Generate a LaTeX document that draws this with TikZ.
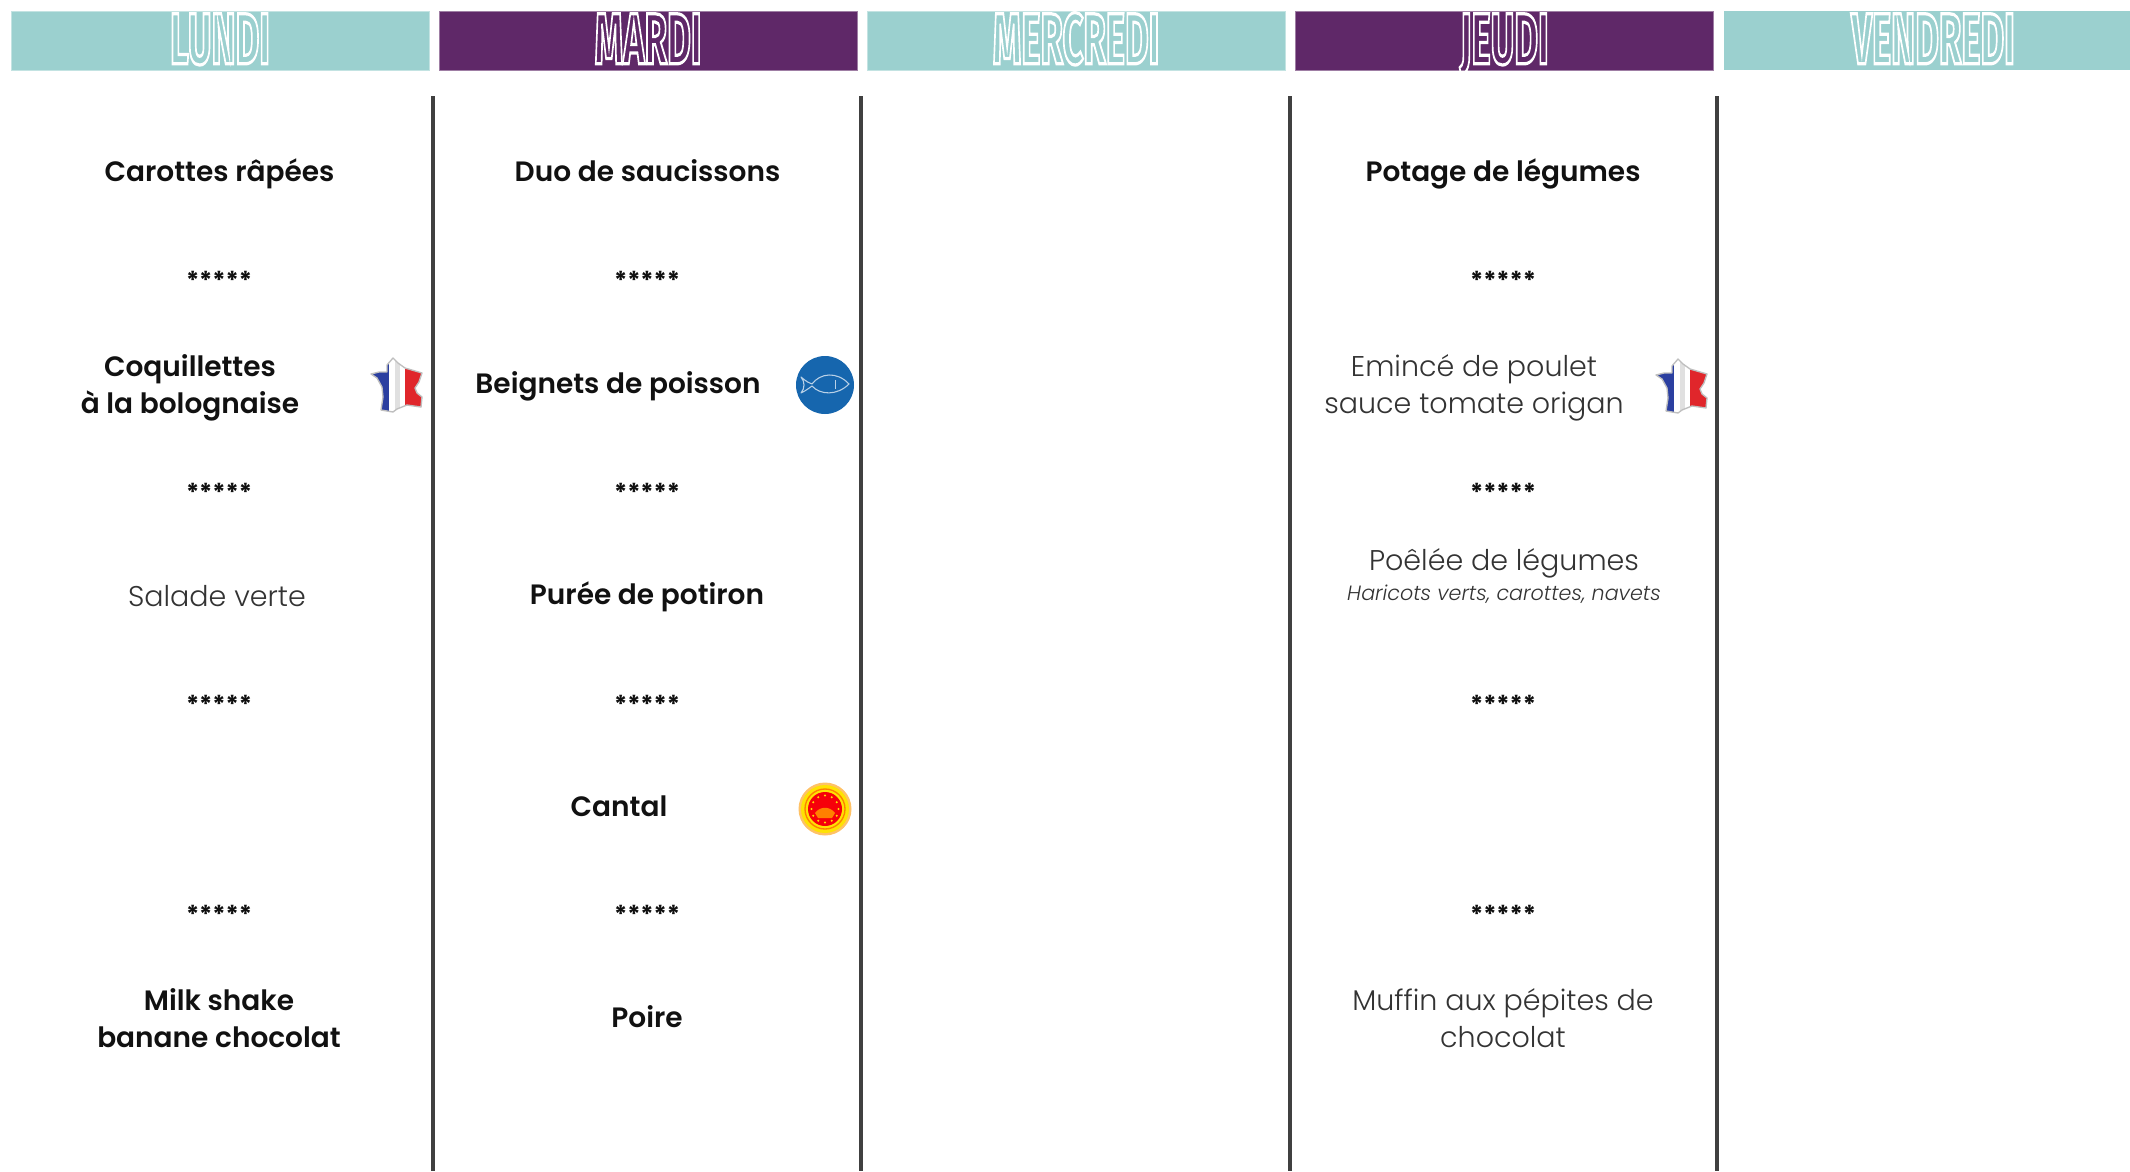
\documentclass[tikz,border=0pt]{standalone}
\usepackage{fontspec}
\usepackage{graphicx}
\setmainfont{Poppins}
\newfontfamily\hdfont{Fira Sans Bold}
\newfontfamily\lightfont{Poppins Light}
\newfontfamily\semifont{Poppins SemiBold}
\definecolor{teal0}{HTML}{9BD0CF}
\definecolor{purp0}{HTML}{5F2868}
\definecolor{rule0}{HTML}{404040}
\definecolor{ink0}{HTML}{111111}
\definecolor{thin0}{HTML}{333333}
\definecolor{fishblue}{HTML}{1666AE}
\definecolor{frblue}{HTML}{2B3FA0}
\definecolor{frred}{HTML}{E0262B}
\newcommand{\outl}[1]{\special{pdf:code 1 Tr 1.4 w 1 1 1 RG}#1\special{pdf:code 0 Tr}}
\newcommand{\hdtext}[1]{\raisebox{-17.5pt}[0pt][0pt]{\scalebox{0.88}[1.75]{\hdfont\fontsize{31}{31}\selectfont\outl{#1}}}}
\newcommand{\frpath}{(-4,-27) -- (1,-22) -- (8,-17) -- (25,-12) -- (22,-3) -- (18,3) -- (20,8) -- (25,12) -- (24,22) -- (10,20) -- (0,24) -- (-4,27) -- (-16,25) -- (-14,12) -- (-15,2) -- (-20,-7) -- (-26,-11) -- (-18,-13) -- (-10,-13) -- (-10,-20) -- cycle}
\tikzset{
  x=0.75pt,y=-0.75pt,
  daybar/.style={minimum height=44.25pt,inner sep=0pt,outer sep=0pt,text=white,anchor=north west},
  tealbar/.style={daybar,fill=teal0,draw=teal0!60!white,line width=.5pt},
  purpbar/.style={daybar,fill=purp0,draw=purp0!60!white,line width=.5pt},
  sep/.style={draw=rule0,line width=2.5pt},
  dish/.style={inner sep=0pt,align=center,yshift=-2pt,font=\fontsize{21}{27.75}\selectfont\semifont,text=ink0},
  plain/.style={inner sep=0pt,align=center,yshift=-2pt,font=\fontsize{21.4}{27.75}\selectfont\lightfont,text=thin0},
  stars/.style={inner sep=0pt,font=\fontsize{18.5}{20}\selectfont\bfseries,text=ink0},
  flagpic/.pic={
    \begin{scope}
      \clip \frpath;
      \fill[frblue] (-30,-30) rectangle (-8,30);
      \fill[white] (-8,-30) rectangle (8,30);
      \fill[black!12] (-2,-30) rectangle (3,30);
      \fill[frred] (8,-30) rectangle (30,30);
    \end{scope}
    \draw[black!25,line width=1pt,line join=round] \frpath;
  },
  fishpic/.pic={
    \fill[fishblue] (0,0) circle (29);
    \draw[white!70!fishblue,line width=.8pt,line join=round]
      (-24,-8) .. controls (-18,-3) and (-16,-2) .. (-13,-1)
      .. controls (-5,-12) and (12,-14) .. (24,-1)
      .. controls (12,11) and (-5,10) .. (-13,1)
      .. controls (-16,3) and (-18,5) .. (-24,8)
      .. controls (-20,3) and (-20,-3) .. (-24,-8) -- cycle;
    \draw[white!70!fishblue,line width=.6pt] (10,-5) -- (10,4);
  },
  aoppic/.pic={
    \fill[red!40!yellow!60!white] (0,0) circle (26.5);
    \fill[yellow!85!orange] (0,0) circle (24);
    \draw[orange,line width=1pt] (0,0) circle (20);
    \fill[red!85!purple] (0,0) circle (17);
    \foreach \a in {0,30,...,330} \fill[yellow!80!orange] (\a:13.5) circle (1.1);
    \fill[orange] (-10,4) .. controls (-5,-3) and (5,-3) .. (10,4) -- (7,9) -- (-7,9) -- cycle;
  }
}
\begin{document}
\begin{tikzpicture}
\useasboundingbox (0,0) rectangle (2130,1171);
\fill[white] (0,0) rectangle (2130,1171);
% day headers
\node[tealbar,minimum width=313.5pt] (lundi) at (11,11) {\hdtext{LUNDI}};
\node[purpbar,minimum width=313.5pt] (mardi) at (439,11) {\hdtext{MARDI}};
\node[tealbar,minimum width=313.5pt] (mercredi) at (867,11) {\hdtext{MERCREDI}};
\node[purpbar,minimum width=314pt] (jeudi) at (1295,11) {\hdtext{JEUDI}};
\fill[teal0] (1724,11) rectangle (2130,70);
\node[inner sep=0pt,text=white] (vendredi) at (1933,40.5) {\hdtext{VENDREDI}};
% separators
\draw[sep] (433,96) -- (433,1171);
\draw[sep] (861,96) -- (861,1171);
\draw[sep] (1290,96) -- (1290,1171);
\draw[sep] (1717,96) -- (1717,1171);
% star rows
\foreach \cx/\nm in {219/a,647/b,1503/c}{
  \foreach \cy/\mm in {276/p,488/q,700/r,910.5/s}{
    \node[stars] (st\nm\mm) at (\cx,\cy+4) {*****};
  }
}
% Lundi
\node[dish] (l1) at (219.5,171.5) {\strut Carottes râpées};
\node[dish] (l2) at (190,384.5) {\strut Coquillettes\\\strut à la bolognaise};
\node[plain] (l3) at (217,596) {\strut Salade verte};
\node[dish] (l4) at (219,1018.5) {\strut Milk shake\\\strut banane chocolat};
% Mardi
\node[dish] (m1) at (647.5,171.5) {\strut Duo de saucissons};
\node[dish] (m2) at (618,383.5) {\strut Beignets de poisson};
\node[dish] (m3) at (647,594.5) {\strut Purée de potiron};
\node[dish] (m4) at (619,806) {\strut Cantal};
\node[dish] (m5) at (647,1017) {\strut Poire};
% Jeudi
\node[dish] (j1) at (1503,171.5) {\strut Potage de légumes};
\node[plain] (j2) at (1474,384.5) {\strut Emincé de poulet\\\strut sauce tomate origan};
\node[plain] (j3) at (1504,560) {\strut Poêlée de légumes};
\node[inner sep=0pt,text=thin0,font=\fontsize{15.5}{18}\selectfont\lightfont\itshape,yshift=-1.5pt] (j3b) at (1504,592) {Haricots verts, carottes, navets};
\node[plain] (j4) at (1503,1018.5) {\strut Muffin aux pépites de\\\strut chocolat};
% icons
\pic at (397,385) {flagpic};
\pic at (1682,386) {flagpic};
\pic at (825,385) {fishpic};
\pic at (825,809) {aoppic};
\end{tikzpicture}
\end{document}
